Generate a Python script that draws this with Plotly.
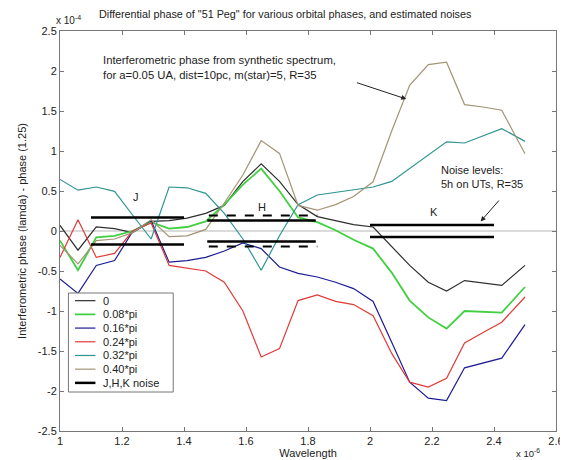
import plotly.graph_objects as go

# Wavelength (x 1e-6 m)
wavelength = [1.0, 1.058, 1.117, 1.176, 1.234, 1.294, 1.352, 1.41, 1.47, 1.53,
              1.59, 1.649, 1.708, 1.768, 1.83, 1.889, 1.947, 2.01, 2.07, 2.128,
              2.188, 2.247, 2.305, 2.365, 2.425, 2.5]

# Differential phase (x 1e-4) for each orbital phase
phase_0 = [0.07, -0.24, 0.05, 0.03, -0.02, 0.12, 0.13, 0.16, 0.22, 0.32,
           0.62, 0.84, 0.62, 0.33, 0.18, 0.13, 0.08, 0.05, -0.2, -0.43,
           -0.64, -0.75, -0.62, -0.65, -0.68, -0.43]
phase_008 = [-0.12, -0.49, -0.08, -0.06, 0.0, 0.11, 0.03, 0.05, 0.12, 0.33,
             0.58, 0.78, 0.5, 0.17, 0.11, 0.01, -0.11, -0.22, -0.52, -0.87,
             -1.08, -1.22, -1.0, -1.01, -1.02, -0.70]
phase_016 = [-0.6, -0.78, -0.43, -0.37, -0.01, 0.13, -0.39, -0.37, -0.33, -0.25,
             -0.15, -0.22, -0.45, -0.53, -0.575, -0.64, -0.72, -0.88, -1.39, -1.89,
             -2.09, -2.12, -1.71, -1.65, -1.59, -1.17]
phase_024 = [-0.33, 0.14, -0.33, -0.28, 0.0, 0.1, -0.43, -0.46, -0.5, -0.64,
             -1.0, -1.575, -1.47, -0.87, -0.80, -0.88, -0.92, -1.06, -1.53, -1.89,
             -1.95, -1.84, -1.40, -1.27, -1.14, -0.825]
phase_032 = [0.645, 0.51, 0.55, 0.495, 0.2, -0.1, 0.55, 0.54, 0.47, 0.22,
             -0.1, -0.49, -0.06, 0.33, 0.45, 0.48, 0.51, 0.55, 0.62, 0.78,
             0.95, 1.115, 1.10, 1.19, 1.28, 1.12]
phase_040 = [-0.18, -0.41, -0.12, -0.1, -0.02, 0.14, -0.07, -0.06, 0.02, 0.35,
             0.70, 1.13, 0.97, 0.32, 0.26, 0.33, 0.43, 0.615, 1.25, 1.82,
             2.08, 2.11, 1.58, 1.55, 1.51, 0.965]

series_names = ["0", "0.08*pi", "0.16*pi", "0.24*pi", "0.32*pi", "0.40*pi"]
series_values = [phase_0, phase_008, phase_016, phase_024, phase_032, phase_040]
series_colors = ["#2e2e2e", "#40d040", "#1c1c96", "#e03a36", "#2f9494", "#a39474"]
series_widths = [1.2, 1.8, 1.2, 1.2, 1.2, 1.2]

# Noise levels (x 1e-4)
noise_name = "J,H,K noise"
noise_bands = ["J", "H", "K"]
noise_start = [1.1, 1.475, 2.0]
noise_end = [1.4, 1.825, 2.4]
noise_solid = [0.17, 0.13, 0.075]
noise_dashed_start = [1.48]
noise_dashed_end = [1.83]
noise_dashed = [0.195]
band_label_x = [1.245, 1.65, 2.205]
band_label_y = [0.43, 0.30, 0.24]

x_ticks = [1, 1.2, 1.4, 1.6, 1.8, 2, 2.2, 2.4, 2.6]
x_ticklabels = ["1", "1.2", "1.4", "1.6", "1.8", "2", "2.2", "2.4", "2.6"]
y_ticks = [-2.5, -2, -1.5, -1, -0.5, 0, 0.5, 1, 1.5, 2, 2.5]
y_ticklabels = ["-2.5", "-2", "-1.5", "-1", "-0.5", "0", "0.5", "1", "1.5", "2", "2.5"]

FONT = "Liberation Sans, Arial, sans-serif"
TXT = "#222"

fig = go.Figure()

# zero reference line
fig.add_trace(go.Scatter(x=[1, 2.6], y=[0, 0], mode="lines",
                         line=dict(color="#cfcfcf", width=1.5),
                         showlegend=False, hoverinfo="skip"))

for name, vals, col, w in zip(series_names, series_values, series_colors, series_widths):
    fig.add_trace(go.Scatter(x=wavelength, y=vals, mode="lines", name=name,
                             line=dict(color=col, width=w), showlegend=False))

# solid noise lines
nx, ny = [], []
for s, e, lv in zip(noise_start, noise_end, noise_solid):
    nx += [s, e, None, s, e, None]
    ny += [lv, lv, None, -lv, -lv, None]
fig.add_trace(go.Scatter(x=nx, y=ny, mode="lines", name=noise_name,
                         line=dict(color="black", width=2.5), showlegend=False))

# dashed noise lines (H band)
dx, dy = [], []
for s, e, lv in zip(noise_dashed_start, noise_dashed_end, noise_dashed):
    dx += [s, e, None, s, e, None]
    dy += [lv, lv, None, -lv, -lv, None]
fig.add_trace(go.Scatter(x=dx, y=dy, mode="lines", showlegend=False,
                         line=dict(color="black", width=2, dash="dash")))

annotations = []
for lab, lx, ly in zip(noise_bands, band_label_x, band_label_y):
    annotations.append(dict(x=lx, y=ly, text=lab, showarrow=False,
                            font=dict(size=11, color=TXT)))

annotations += [
    dict(x=1.132, y=2.045, xanchor="left", yanchor="middle", showarrow=False, align="left",
         text="Interferometric phase from synthetic spectrum,<br>for a=0.05 UA, dist=10pc, m(star)=5, R=35",
         font=dict(size=11.3, color=TXT)),
    dict(x=2.117, y=1.65, ax=1.953, ay=1.86, axref="x", ayref="y", showarrow=True,
         arrowhead=2, arrowsize=1, arrowwidth=1, arrowcolor=TXT, text=""),
    dict(x=2.222, y=0.675, xanchor="left", yanchor="middle", showarrow=False, align="left",
         text="Noise levels:<br>5h on UTs, R=35", font=dict(size=11, color=TXT)),
    dict(x=2.357, y=0.12, ax=2.42, ay=0.40, axref="x", ayref="y", showarrow=True,
         arrowhead=2, arrowsize=1, arrowwidth=1, arrowcolor=TXT, text=""),
    dict(xref="paper", yref="paper", x=-0.012, y=1.028, xanchor="left", yanchor="middle",
         showarrow=False, text="x 10<sup>-4</sup>", font=dict(size=10, color=TXT)),
    dict(xref="paper", yref="paper", x=0.915, y=-0.054, xanchor="left", yanchor="middle",
         showarrow=False, text="x 10<sup>-6</sup>", font=dict(size=9.5, color=TXT)),
]

# manual legend (compact rows like the original)
shapes = [dict(type="rect", xref="paper", yref="paper", x0=0.017, x1=0.2283,
               y0=0.0975, y1=0.345, line=dict(color="#777", width=1),
               fillcolor="white", layer="above")]
leg_names = series_names + [noise_name]
leg_colors = series_colors + ["black"]
leg_widths = series_widths + [2.5]
row0, dy_row = 0.3258, 0.03425
for i, (nm, col, w) in enumerate(zip(leg_names, leg_colors, leg_widths)):
    yy = row0 - i * dy_row
    shapes.append(dict(type="line", xref="paper", yref="paper", x0=0.0303, x1=0.0714,
                       y0=yy, y1=yy, line=dict(color=col, width=w), layer="above"))
    annotations.append(dict(xref="paper", yref="paper", x=0.0828, y=yy, xanchor="left",
                            yanchor="middle", showarrow=False, text=nm,
                            font=dict(size=11, color=TXT)))

fig.update_layout(
    width=568, height=460,
    margin=dict(l=52, r=15, t=23, b=37),
    paper_bgcolor="white", plot_bgcolor="white",
    font=dict(family=FONT, size=11, color=TXT),
    title=dict(text='Differential phase of "51 Peg" for various orbital phases, and estimated noises',
               x=0.488, xanchor="center", y=0.986, yanchor="middle",
               font=dict(size=10.8, color=TXT)),
    showlegend=False,
    annotations=annotations,
    shapes=shapes,
)

fig.update_xaxes(range=[1, 2.6], tickvals=x_ticks, ticktext=x_ticklabels,
                 ticks="inside", ticklen=4, tickcolor="#777", showline=True,
                 linecolor="#777", mirror="ticks", showgrid=False, zeroline=False,
                 title=dict(text="Wavelength", standoff=0, font=dict(size=11)))
fig.update_yaxes(range=[-2.5, 2.5], tickvals=y_ticks, ticktext=y_ticklabels,
                 ticks="inside", ticklen=4, tickcolor="#777", showline=True,
                 linecolor="#777", mirror="ticks", showgrid=False, zeroline=False,
                 title=dict(text="Interferometric phase (lamda) - phase (1.25)", standoff=8,
                            font=dict(size=11)))

fig.write_html("out.html")
